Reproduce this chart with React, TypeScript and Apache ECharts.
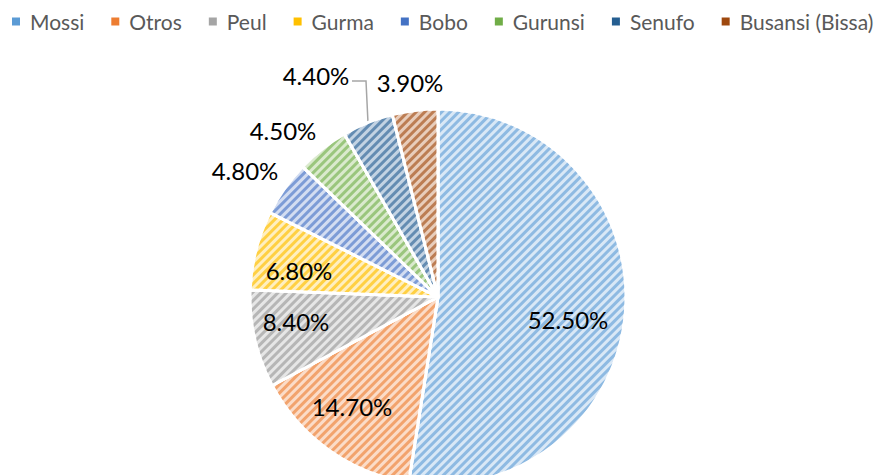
import React, { useEffect, useRef } from "react";
import * as echarts from "echarts";

const categories = ["Mossi", "Otros", "Peul", "Gurma", "Bobo", "Gurunsi", "Senufo", "Busansi (Bissa)"];
const values = [52.5, 14.7, 8.4, 6.8, 4.8, 4.5, 4.4, 3.9];
const colors = ["#5B9BD5", "#ED7D31", "#A5A5A5", "#FFC000", "#4472C4", "#70AD47", "#255E91", "#9E480E"];
const tints = ["#D9E8F6", "#FBDCC8", "#E6E6E6", "#FFEFC0", "#D3DDF1", "#DAEACD", "#C3D3E3", "#E8CDBB"];
const stripeColors = ["rgba(91,155,213,0.6)", "rgba(237,125,49,0.6)", "rgba(150,150,150,0.6)", "rgba(255,192,0,0.65)", "rgba(68,114,196,0.6)", "rgba(112,173,71,0.6)", "rgba(37,94,145,0.6)", "rgba(158,72,14,0.6)"];
// label centre positions (layout only)
const labelPos: [number, number][] = [
  [568, 319], [352, 406], [296, 321], [299, 270], [245, 170], [283, 130], [316, 75], [410, 82],
];

const FONT = "Lato, 'Noto Sans', sans-serif";

export default function App() {
  const ref = useRef<HTMLDivElement>(null);
  useEffect(() => {
    if (!ref.current) return;
    const chart = echarts.init(ref.current, undefined, { renderer: "svg" });
    chart.setOption({
      animation: false,
      backgroundColor: "#ffffff",
      legend: {
        top: 11,
        left: 12,
        right: 0,
        itemWidth: 8,
        itemHeight: 8,
        itemGap: 27,
        icon: "rect",
        padding: 0,
        textStyle: { fontSize: 21, color: "#595959", fontFamily: FONT, padding: [0, 0, 0, 5] },
        data: categories.map((c, i) => ({ name: c, itemStyle: { color: colors[i], decal: "none", borderWidth: 0 } })),
      },
      series: [
        {
          type: "pie",
          center: [438, 297],
          radius: 188,
          startAngle: 90,
          clockwise: true,
          avoidLabelOverlap: false,
          itemStyle: { borderColor: "#ffffff", borderWidth: 3 },
          label: {
            show: true,
            position: "outside",
            fontSize: 24,
            color: "#000000",
            fontFamily: FONT,
            formatter: (p: any) => `${Number(p.value).toFixed(2)}%`,
          },
          labelLine: { show: false },
          labelLayout: (params: any) => {
            const i = params.dataIndex;
            const res: any = { x: labelPos[i][0], y: labelPos[i][1], align: "center", verticalAlign: "middle" };
            if (i === 6) {
              res.labelLinePoints = [[368, 123], [366, 81], [352, 81]];
            }
            return res;
          },
          data: categories.map((c, i) => ({
            name: c,
            value: values[i],
            itemStyle: {
              color: tints[i],
              decal: {
                symbol: "rect",
                symbolSize: 1,
                color: stripeColors[i],
                dashArrayX: [1, 0],
                dashArrayY: [3, 3],
                rotation: -Math.PI / 4,
              },
            },
            labelLine: i === 6 ? { show: true, lineStyle: { color: "#A6A6A6", width: 1.5 } } : { show: false },
          })),
        },
      ],
    });
    return () => chart.dispose();
  }, []);
  return <div ref={ref} style={{ position: "fixed", left: 0, top: 0, width: 876, height: 475 }} />;
}
